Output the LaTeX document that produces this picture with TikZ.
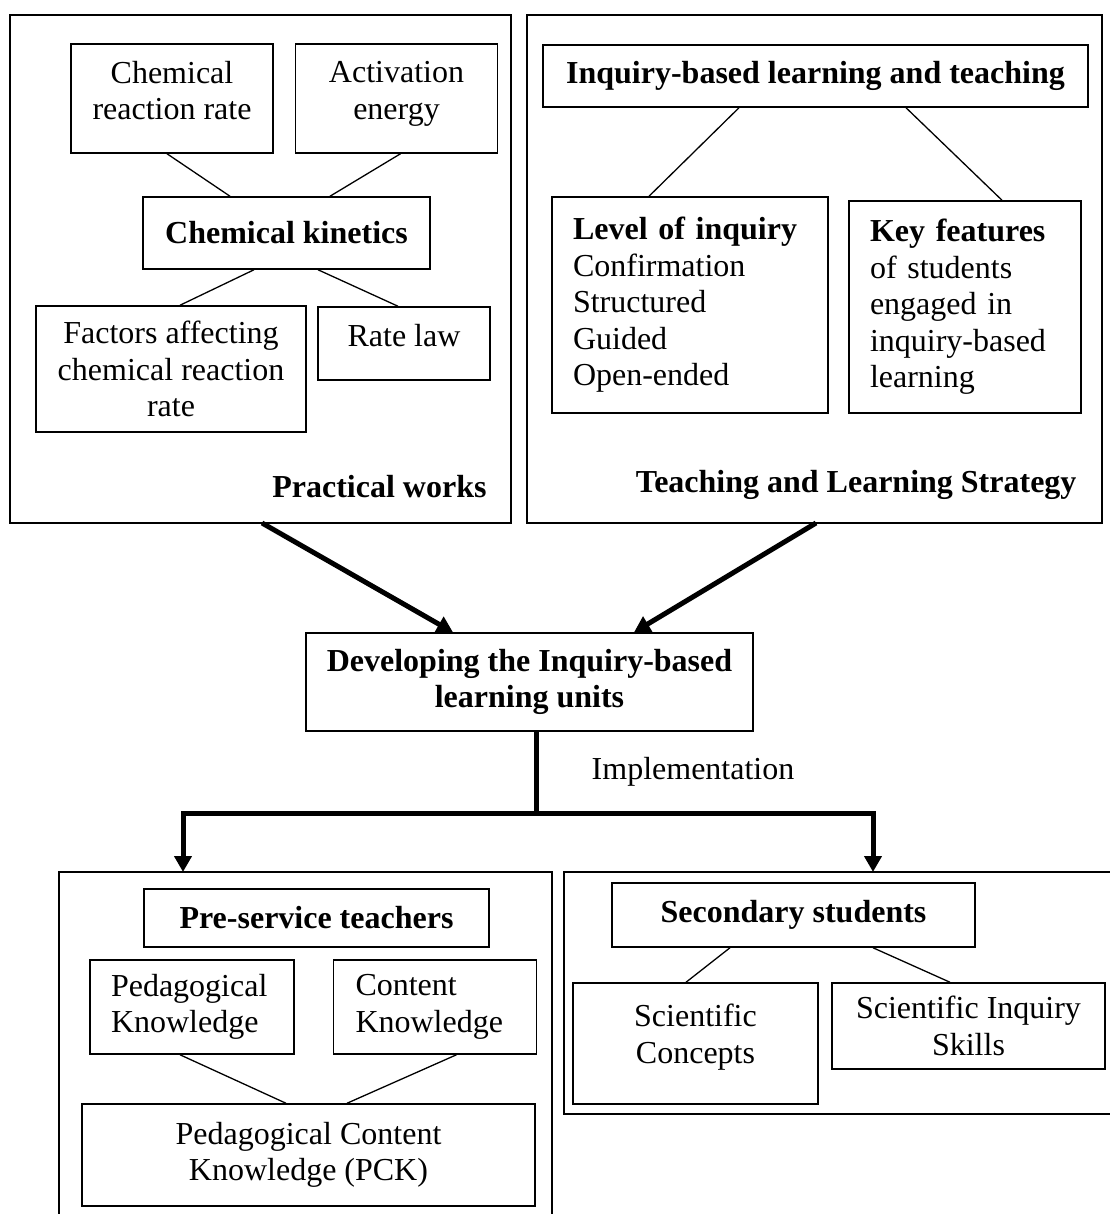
\documentclass[tikz,border=0pt]{standalone}
\usepackage{fontspec}
\setmainfont{Liberation Serif}
\usetikzlibrary{positioning,arrows,arrows.meta}
\newcommand{\fs}{\fontsize{32}{36.5}\selectfont}

\tikzset{
  bx/.style={draw, line width=1.5pt, inner sep=0pt, align=center, font=\fs},
  hbx/.style={bx, font=\fs\bfseries},
  ln/.style={line width=1.3pt},
  flow/.style={line width=5pt, -{Triangle[length=16pt,width=17pt]}},
  panel/.style={line width=1.5pt},
}

\begin{document}
\begin{tikzpicture}[x=1pt, y=-1pt]
\useasboundingbox (0,0) rectangle (1109,1214);
% frames
\draw[panel] (10,15) rectangle (511,523);
\draw[panel] (527,15) rectangle (1102,523);
\draw[panel] (59,1220) -- (59,872) -- (552,872) -- (552,1220);
\draw[panel] (1115,872) -- (564,872) -- (564,1114) -- (1115,1114);
% practical works
\node[bx, minimum width=202pt, minimum height=109pt, text depth=16pt] (ncr) at (172,98.5) {Chemical\\reaction rate};
\node[bx, minimum width=202pt, minimum height=109pt, text depth=16pt, right=21pt of ncr] (nae) {Activation\\energy};
\node[hbx, minimum width=287pt, minimum height=72pt] (nck) at (286.5,233) {Chemical kinetics};
\node[bx, minimum width=270pt, minimum height=126pt] (nfa) at (171,369) {Factors affecting\\chemical reaction\\rate};
\node[bx, minimum width=172pt, minimum height=73pt, text depth=16pt] (nrl) at (404,343.5) {Rate law};
\node[font=\fs\bfseries, anchor=east] (npw) at (490,487) {Practical works};
% strategy
\node[hbx, minimum width=545pt, minimum height=62pt] (nib) at (815.5,76) {Inquiry-based learning and teaching};
\node[bx, align=left, inner xsep=21pt, text width=234pt, minimum height=216pt] (nli) at (690,305)
  {\textbf{Level of inquiry}\\Confirmation\\Structured\\Guided\\Open-ended};
\node[bx, align=left, inner xsep=21pt, text width=190pt, minimum height=212pt] (nkf) at (965,307)
  {\textbf{Key features}\\of students\\engaged in\\inquiry-based\\learning};
\node[font=\fs\bfseries, anchor=east] (ntl) at (1080,485) {Teaching and Learning Strategy};
% units
\node[hbx, minimum width=447pt, minimum height=98pt] (ndev) at (529.5,682) {Developing the Inquiry-based\\learning units};
\node[font=\fs] (nim) at (693,772) {Implementation};
\coordinate (cpw) at (262,523);
\coordinate (ctl) at (816,523);
\coordinate (cj) at (536,813);
\coordinate (cpl) at (183,872);
\coordinate (cpr) at (873,872);
% pre-service teachers
\node[hbx, minimum width=345pt, minimum height=58pt] (npst) at (316.5,918) {Pre-service teachers};
\node[bx, align=left, inner xsep=21pt, text width=162pt, minimum height=94pt] (npk) at (192,1007) {Pedagogical\\Knowledge};
\node[bx, align=left, inner xsep=22pt, text width=159pt, minimum height=94pt, right=38pt of npk] (nckn) {Content\\Knowledge};
\node[bx, minimum width=453pt, minimum height=102pt] (npck) at (308.5,1155) {Pedagogical Content\\Knowledge (PCK)};
% secondary students
\node[hbx, minimum width=363pt, minimum height=64pt] (nss) at (793.5,915) {Secondary students};
\node[bx, minimum width=245pt, minimum height=121pt, text depth=20pt] (nsc) at (695.5,1043.5) {Scientific\\Concepts};
\node[bx, minimum width=273pt, minimum height=86pt] (nsi) at (968.5,1026) {Scientific Inquiry\\Skills};

\path ([xshift=-5pt]ncr.south) edge[ln] ([xshift=-56.5pt]nck.north)
([xshift=4pt]nae.south) edge[ln] ([xshift=43.5pt]nck.north)
([xshift=-32.5pt]nck.south) edge[ln] ([xshift=9pt]nfa.north)
([xshift=31.5pt]nck.south) edge[ln] ([xshift=-6pt]nrl.north)
([xshift=-76.5pt]nib.south) edge[ln] ([xshift=-41pt]nli.north)
([xshift=90.5pt]nib.south) edge[ln] ([xshift=37pt]nkf.north)
([xshift=-12pt]npk.south) edge[ln] ([xshift=-22.5pt]npck.north)
([xshift=21.5pt]nckn.south) edge[ln] ([xshift=38.5pt]npck.north)
([xshift=-63.5pt]nss.south) edge[ln] ([xshift=-9.5pt]nsc.north)
([xshift=79.5pt]nss.south) edge[ln] ([xshift=-18.5pt]nsi.north);

\draw[flow] (cpw) -- ([xshift=-76.5pt]ndev.north);
\draw[flow] (ctl) -- ([xshift=104.5pt]ndev.north);
\draw[line width=5pt] ([xshift=6.5pt]ndev.south) -- (cj);
\draw[flow] (cj) -| (cpl);
\draw[flow] (cj) -| (cpr);
\end{tikzpicture}
\end{document}
